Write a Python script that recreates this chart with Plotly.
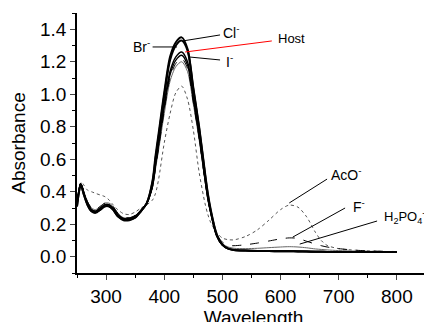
import plotly.graph_objects as go

wavelength = [250, 253, 256, 258, 262, 268, 275, 282, 290, 298, 305, 312, 320, 330, 340, 350, 360,
              370, 380, 385, 390, 400, 410, 420, 430, 440, 450, 460, 470, 475, 480, 490, 500,
              510, 520, 540, 560, 580, 600, 615, 630, 645, 660, 670, 680, 700, 730, 760, 800]

abs_cl = [0.31, 0.39, 0.44, 0.43, 0.38, 0.32, 0.28, 0.27, 0.29, 0.31, 0.31, 0.29, 0.25, 0.225, 0.225, 0.24, 0.28,
          0.33, 0.47, 0.62, 0.75, 1.01, 1.23, 1.32, 1.35, 1.28, 1.04, 0.80, 0.52, 0.39, 0.29, 0.14, 0.075,
          0.05, 0.042, 0.038, 0.036, 0.035, 0.034, 0.034, 0.033, 0.032, 0.031, 0.031, 0.03, 0.03, 0.03, 0.03, 0.03]

abs_br = [0.31, 0.39, 0.44, 0.43, 0.38, 0.32, 0.28, 0.275, 0.29, 0.31, 0.31, 0.29, 0.25, 0.23, 0.228, 0.242, 0.28,
          0.33, 0.46, 0.60, 0.73, 0.99, 1.21, 1.30, 1.33, 1.27, 1.03, 0.79, 0.51, 0.38, 0.28, 0.14, 0.075,
          0.05, 0.042, 0.038, 0.036, 0.035, 0.034, 0.034, 0.033, 0.032, 0.031, 0.031, 0.03, 0.03, 0.03, 0.03, 0.03]

abs_host = [0.32, 0.40, 0.45, 0.44, 0.39, 0.33, 0.29, 0.28, 0.30, 0.32, 0.32, 0.30, 0.26, 0.235, 0.235, 0.25, 0.285,
            0.33, 0.44, 0.57, 0.69, 0.94, 1.14, 1.23, 1.26, 1.20, 0.98, 0.75, 0.48, 0.36, 0.27, 0.13, 0.072,
            0.05, 0.042, 0.038, 0.036, 0.035, 0.035, 0.035, 0.034, 0.033, 0.032, 0.032, 0.031, 0.03, 0.03, 0.03, 0.03]

abs_i = [0.32, 0.40, 0.45, 0.44, 0.39, 0.33, 0.29, 0.28, 0.30, 0.32, 0.32, 0.30, 0.26, 0.235, 0.235, 0.25, 0.285,
         0.33, 0.44, 0.56, 0.68, 0.92, 1.12, 1.21, 1.24, 1.18, 0.97, 0.74, 0.48, 0.36, 0.27, 0.13, 0.072,
         0.05, 0.042, 0.038, 0.036, 0.035, 0.035, 0.035, 0.034, 0.033, 0.032, 0.032, 0.031, 0.03, 0.03, 0.03, 0.03]

abs_f = [0.33, 0.41, 0.45, 0.44, 0.40, 0.34, 0.30, 0.29, 0.31, 0.33, 0.33, 0.31, 0.27, 0.245, 0.24, 0.255, 0.29,
         0.33, 0.43, 0.55, 0.66, 0.90, 1.10, 1.19, 1.22, 1.16, 0.95, 0.73, 0.47, 0.36, 0.27, 0.14, 0.09,
         0.07, 0.068, 0.074, 0.084, 0.097, 0.11, 0.116, 0.113, 0.095, 0.078, 0.068, 0.06, 0.05, 0.04, 0.035, 0.032]

abs_h2po4 = [0.32, 0.40, 0.45, 0.44, 0.40, 0.34, 0.30, 0.29, 0.31, 0.33, 0.33, 0.31, 0.27, 0.24, 0.24, 0.25, 0.285,
             0.33, 0.43, 0.54, 0.65, 0.88, 1.08, 1.17, 1.20, 1.14, 0.94, 0.72, 0.47, 0.35, 0.27, 0.13, 0.08,
             0.06, 0.052, 0.05, 0.052, 0.056, 0.06, 0.062, 0.06, 0.055, 0.048, 0.045, 0.042, 0.038, 0.035, 0.033, 0.03]

abs_aco = [0.33, 0.41, 0.45, 0.46, 0.44, 0.41, 0.40, 0.39, 0.38, 0.37, 0.35, 0.32, 0.29, 0.265, 0.26, 0.275, 0.30,
           0.32, 0.35, 0.39, 0.47, 0.70, 0.88, 1.01, 1.05, 0.97, 0.78, 0.52, 0.33, 0.26, 0.21, 0.15, 0.115,
           0.105, 0.104, 0.125, 0.165, 0.225, 0.29, 0.318, 0.305, 0.245, 0.15, 0.10, 0.07, 0.05, 0.04, 0.035, 0.03]

series = [
    ("AcO⁻", abs_aco, dict(color="#555555", width=1, dash="dot")),
    ("H₂PO₄⁻", abs_h2po4, dict(color="#666666", width=1)),
    ("F⁻", abs_f, dict(color="black", width=1, dash="dash")),
    ("I⁻", abs_i, dict(color="black", width=1.3)),
    ("Host", abs_host, dict(color="black", width=1.5)),
    ("Br⁻", abs_br, dict(color="black", width=2)),
    ("Cl⁻", abs_cl, dict(color="black", width=2)),
]

fig = go.Figure()
for name, ys, line in series:
    fig.add_trace(go.Scatter(x=wavelength, y=ys, mode="lines", name=name,
                             line=dict(shape="spline", smoothing=0.8, **line)))

FONT = "Liberation Sans, Arial, sans-serif"

# label leader lines: (x0, y0, x1, y1, color)
leaders = [
    (380, 1.291, 422, 1.291, "black"),
    (432, 1.328, 496, 1.365, "black"),
    (436, 1.260, 585, 1.328, "red"),
    (444, 1.229, 496, 1.211, "black"),
    (615, 0.331, 680, 0.478, "black"),
    (621, 0.121, 711, 0.300, "black"),
    (633, 0.078, 766, 0.220, "black"),
]
for x0, y0, x1, y1, c in leaders:
    fig.add_shape(type="line", xref="x", yref="y", x0=x0, y0=y0, x1=x1, y1=y1,
                  line=dict(color=c, width=1))

labels = [
    (379, 1.30, "Br<sup>-</sup>", "right", 14),
    (498, 1.385, "Cl<sup>-</sup>", "left", 14),
    (592, 1.345, "Host", "left", 13),
    (502, 1.205, "I<sup>-</sup>", "left", 14),
    (683, 0.51, "AcO<sup>-</sup>", "left", 14),
    (722, 0.315, "F<sup>-</sup>", "left", 14),
    (775, 0.245, "H<sub>2</sub>PO<sub>4</sub><sup>-</sup>", "left", 13),
]
for x, y, t, xa, fs in labels:
    fig.add_annotation(x=x, y=y, xref="x", yref="y", text=t, showarrow=False,
                       xanchor=xa, yanchor="middle", font=dict(family=FONT, size=fs, color="black"))

fig.update_layout(
    width=432, height=322,
    margin=dict(l=69, r=10, t=5, b=57, autoexpand=False),
    paper_bgcolor="white", plot_bgcolor="white",
    showlegend=False,
    font=dict(family=FONT, size=19, color="black"),
)
fig.update_xaxes(
    range=[250, 857], tick0=0, dtick=100, ticks="outside", ticklen=5, tickwidth=1.2,
    showline=True, linecolor="black", linewidth=1.5, showgrid=False, zeroline=False,
    minor=dict(ticks="outside", dtick=50, tick0=0, ticklen=3, tickcolor="black", showgrid=False),
    title=dict(text="Wavelength", standoff=1, font=dict(size=19)),
    tickfont=dict(size=19), automargin=False,
)
fig.update_yaxes(
    range=[-0.1, 1.5], tick0=0, dtick=0.2, tickformat=".1f", ticks="outside", ticklen=5, tickwidth=1.2,
    showline=True, linecolor="black", linewidth=1.5, showgrid=False, zeroline=False,
    minor=dict(ticks="outside", dtick=0.1, tick0=0, ticklen=3, tickcolor="black", showgrid=False),
    title=dict(text="Absorbance", standoff=16, font=dict(size=19)),
    tickfont=dict(size=19), automargin=False,
)

fig.write_html("out.html")
